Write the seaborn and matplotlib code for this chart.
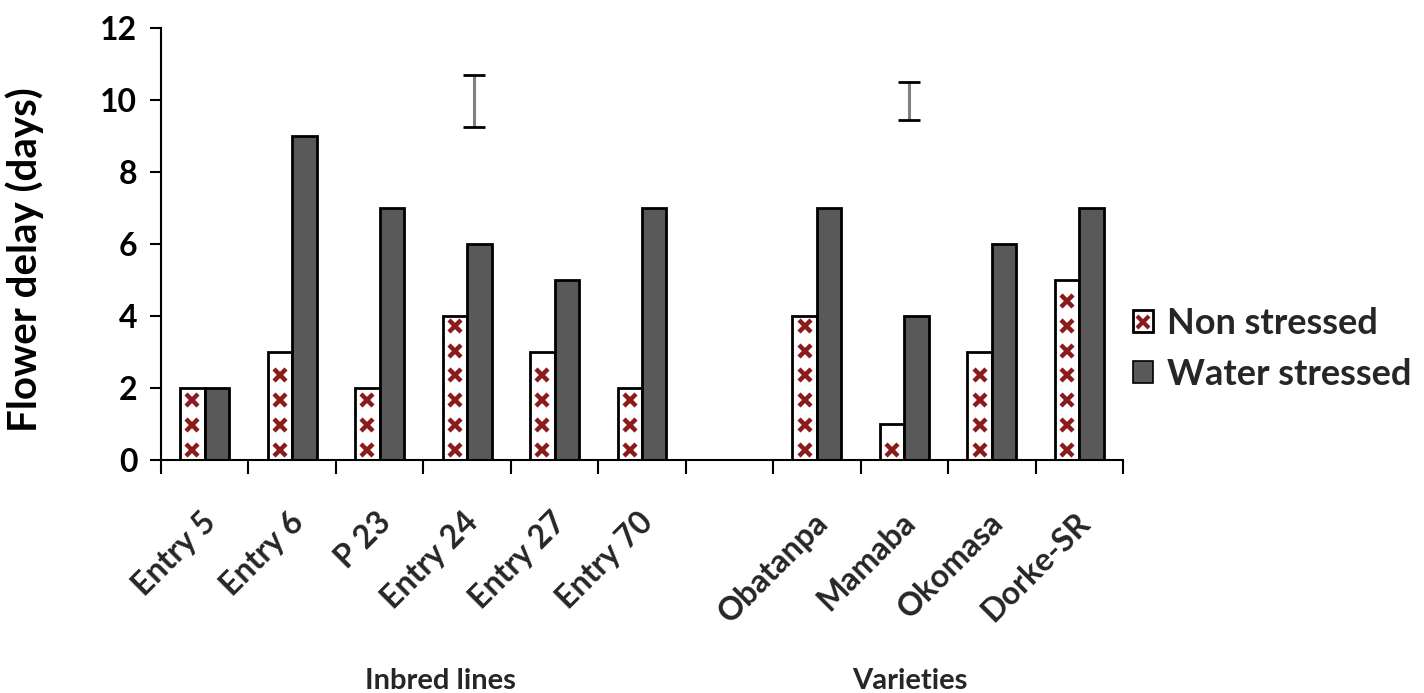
import numpy as np
import pandas as pd
import matplotlib
matplotlib.use("Agg")
import matplotlib.pyplot as plt
import seaborn as sns
from matplotlib.patches import Patch
from matplotlib.lines import Line2D
from matplotlib.legend_handler import HandlerTuple
import matplotlib.transforms as mtransforms

# ---- data -------------------------------------------------------------
genotypes = ["Entry 5", "Entry 6", "P 23", "Entry 24", "Entry 27", "Entry 70",
             "", "Obatanpa", "Mamaba", "Okomasa", "Dorke-SR"]
non_stressed = [2, 3, 2, 4, 3, 2, np.nan, 4, 1, 3, 5]
water_stressed = [2, 9, 7, 6, 5, 7, np.nan, 7, 4, 6, 7]
treatments = ["Non stressed", "Water stressed"]

# LSD bars for each group (position, lower end, upper end)
lsd_pos = [3.08, 8.05]
lsd_low = [9.25, 9.45]
lsd_high = [10.7, 10.5]

group_names = ["Inbred lines", "Varieties"]

# ---- styling ----------------------------------------------------------
sns.set_theme(style="white")
plt.rcParams["font.family"] = ["Lato", "DejaVu Sans"]
plt.rcParams["font.weight"] = "bold"

dark_red = "#8B1A1A"
grey = "#595959"

rows = []
for g, a, b in zip(genotypes, non_stressed, water_stressed):
    rows.append({"Genotype": g, "Treatment": treatments[0], "Delay": a})
    rows.append({"Genotype": g, "Treatment": treatments[1], "Delay": b})
df = pd.DataFrame(rows)

fig = plt.figure(figsize=(14.24, 6.93), dpi=100)
ax = fig.add_axes([161 / 1424, 1 - 460 / 693, (1123 - 161) / 1424, (460 - 28) / 693])

sns.barplot(data=df, x="Genotype", y="Delay", hue="Treatment", order=genotypes,
            hue_order=treatments, palette=["white", grey], width=0.56,
            edgecolor="black", linewidth=2.0, gap=0, errorbar=None,
            legend=False, ax=ax)

# cross-stitch fill of the non-stressed bars
for bar in ax.containers[0]:
    h = bar.get_height()
    if not np.isfinite(h) or h <= 0:
        continue
    xc = bar.get_x() + bar.get_width() / 2
    ys = np.arange(0.28, h - 0.1, 0.69)
    pts = ax.plot(np.full_like(ys, xc), ys, linestyle="none", marker="x",
                  markersize=8, markeredgewidth=3.2, color=dark_red, zorder=3)
    for p in pts:
        p.set_clip_path(bar)

# LSD bars
for x, lo, hi in zip(lsd_pos, lsd_low, lsd_high):
    mid = (lo + hi) / 2
    _, caps, bars = ax.errorbar([x], [mid], yerr=[[mid - lo], [hi - mid]],
                                fmt="none", ecolor="#808080", elinewidth=2.2,
                                capsize=8, capthick=2, zorder=4)
    for c in caps:
        c.set_color("black")
        c.set_markeredgecolor("black")

# ---- axes -------------------------------------------------------------
ax.set_ylim(0, 12)
ax.set_xlim(-0.5, len(genotypes) - 0.5)
ax.set_yticks(np.arange(0, 13, 2))
ax.tick_params(axis="y", labelsize=23, length=8, width=1.5, direction="out",
               left=True, pad=9, colors="black")
ax.set_xticks(np.arange(-0.5, len(genotypes), 1))
ax.set_xticklabels([])
ax.set_xticks(np.arange(len(genotypes)), minor=True)
ax.set_xticklabels(genotypes, minor=True, rotation=45, ha="right",
                   rotation_mode="anchor", fontsize=23, fontweight="bold")
ax.tick_params(axis="x", which="major", length=10, width=1.5, direction="out",
               bottom=True, colors="black")
ax.tick_params(axis="x", which="minor", length=0, pad=34)
shift = mtransforms.ScaledTranslation(-4 / 100, 0, fig.dpi_scale_trans)
for lab in ax.get_xticklabels(minor=True):
    lab.set_transform(lab.get_transform() + shift)

for side in ["top", "right"]:
    ax.spines[side].set_visible(False)
for side in ["left", "bottom"]:
    ax.spines[side].set_color("black")
    ax.spines[side].set_linewidth(1.5)

ax.set_xlabel("")
ax.set_ylabel("Flower delay (days)", fontsize=29, fontweight="bold", color="black")
ax.yaxis.set_label_coords((44 - 161) / 962, (460 - 260) / 432)

# group captions
fig.text(440 / 1424, 1 - 681 / 693, group_names[0], ha="center", va="center",
         fontsize=21, fontweight="bold")
fig.text(910 / 1424, 1 - 681 / 693, group_names[1], ha="center", va="center",
         fontsize=21, fontweight="bold")

# legend
handles = [
    (Patch(facecolor="white", edgecolor="black", linewidth=2),
     Line2D([], [], linestyle="none", marker="x", markersize=8,
            markeredgewidth=3, color=dark_red)),
    Patch(facecolor=grey, edgecolor="black", linewidth=1.2),
]
fig.legend(handles, treatments, handler_map={tuple: HandlerTuple(ndivide=1)},
           loc="center left", bbox_to_anchor=(1133 / 1424, 1 - 349 / 693),
           frameon=False, fontsize=26, handlelength=0.55, handleheight=0.55,
           handletextpad=0.4, labelspacing=0.5, borderaxespad=0, borderpad=0)

fig.savefig("out.png", dpi=100, facecolor="white")
